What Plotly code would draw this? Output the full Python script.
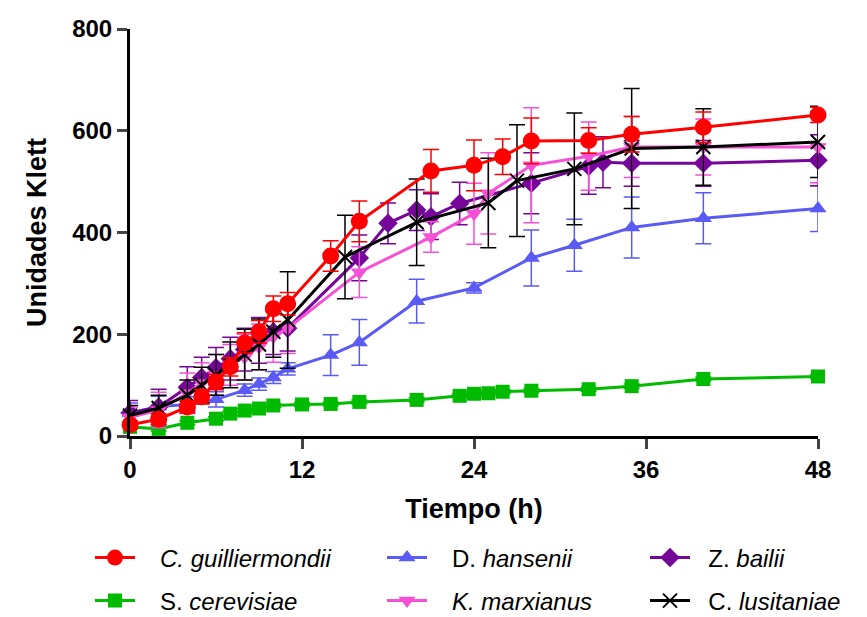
import plotly.graph_objects as go

# ---- data ----
cg_t = [0, 2, 4, 5, 6, 7, 8, 9, 10, 11, 14, 16, 21, 24, 26, 28, 32, 35, 40, 48]
cg_v = [22, 33, 57, 77, 106, 136, 183, 205, 250, 260, 354, 422, 521, 532, 549, 580, 581, 593, 607, 631]
cg_e = [8, 10, 12, 14, 15, 18, 20, 22, 25, 22, 30, 40, 42, 50, 35, 45, 25, 35, 30, 15]

dh_t = [0, 2, 4, 6, 8, 9, 10, 11, 14, 16, 20, 24, 28, 31, 35, 40, 48]
dh_v = [45, 58, 62, 72, 90, 102, 115, 132, 159, 184, 265, 291, 350, 375, 410, 428, 447]
dh_e = [20, 20, 15, 15, 12, 12, 12, 12, 40, 45, 43, 10, 55, 51, 60, 50, 45]

zb_t = [0, 2, 4, 5, 6, 7, 8, 9, 10, 11, 16, 18, 20, 21, 23, 28, 32, 33, 35, 40, 48]
zb_v = [45, 57, 96, 115, 134, 152, 170, 188, 205, 212, 350, 418, 444, 431, 457, 497, 530, 538, 536, 536, 542]
zb_e = [25, 35, 40, 40, 40, 42, 42, 45, 45, 45, 45, 40, 40, 45, 42, 60, 55, 50, 45, 45, 50]

sc_t = [0, 2, 4, 6, 7, 8, 9, 10, 12, 14, 16, 20, 23, 24, 25, 26, 28, 32, 35, 40, 48]
sc_v = [18, 14, 26, 34, 44, 50, 54, 60, 62, 63, 67, 71, 79, 83, 84, 87, 89, 92, 98, 112, 117]
sc_e = [4, 4, 4, 4, 4, 4, 4, 4, 4, 4, 4, 4, 4, 4, 4, 4, 4, 4, 4, 4, 4]

km_t = [0, 2, 4, 5, 6, 7, 8, 9, 10, 11, 16, 21, 24, 25, 28, 32, 35, 40, 48]
km_v = [37, 51, 84, 104, 120, 140, 155, 175, 195, 212, 322, 391, 437, 477, 532, 550, 568, 568, 568]
km_e = [20, 35, 40, 40, 40, 40, 45, 45, 50, 50, 50, 30, 60, 80, 113, 67, 60, 55, 70]

cl_t = [0, 2, 4, 5, 6, 7, 8, 9, 10, 11, 15, 20, 25, 27, 31, 35, 40, 48]
cl_v = [40, 55, 80, 100, 120, 140, 160, 180, 205, 228, 352, 420, 458, 502, 525, 565, 568, 578]
cl_e = [20, 25, 30, 35, 40, 45, 50, 50, 50, 95, 82, 85, 88, 110, 110, 118, 75, 70]

x_ticks = [0, 12, 24, 36, 48]
y_ticks = [0, 200, 400, 600, 800]

FONT = "Liberation Sans"
NB = "\u00a0"

series = [
    # (name, t, v, e, color, symbol, size, legend slot)
    (NB * 3 + "S. <i>cerevisiae</i>", sc_t, sc_v, sc_e, "#00BB00", "square", 14, "legend4"),
    (NB * 3 + "D. <i>hansenii</i>", dh_t, dh_v, dh_e, "#5A5AF5", "triangle-up", 15, "legend2"),
    (NB * 2 + "Z. <i>bailii</i>", zb_t, zb_v, zb_e, "#76069A", "diamond", 15, "legend3"),
    (NB * 3 + "<i>K. marxianus</i>", km_t, km_v, km_e, "#F550D6", "triangle-down", 15, "legend5"),
    (NB * 2 + "C. <i>lusitaniae</i>", cl_t, cl_v, cl_e, "#000000", "x-thin-open", 14, "legend6"),
    (NB * 3 + "<i>C. guilliermondii</i>", cg_t, cg_v, cg_e, "#FF0000", "circle", 17, "legend"),
]

fig = go.Figure()
for name, t, v, e, col, sym, sz, lg in series:
    marker = dict(symbol=sym, size=sz, color=col)
    if sym == "x-thin-open":
        marker["line"] = dict(color=col, width=2)
    fig.add_trace(go.Scatter(
        x=t, y=v, name=name, mode="lines+markers",
        line=dict(color=col, width=3),
        marker=marker,
        error_y=dict(type="data", array=e, visible=True, color=col, thickness=1.5, width=8),
        cliponaxis=False,
        legend=lg,
    ))

# legend positions (pixel -> paper)
L, R, T, B = 130, 49, 29, 181
PW = 867 - L - R
PH = 617 - T - B

def px_x(px):
    return (px - L) / PW

def px_y(py):
    return 1 - (py - T) / PH

leg_common = dict(font=dict(family=FONT, size=24, color="black"), bgcolor="rgba(0,0,0,0)",
                  itemwidth=40, xanchor="left", yanchor="middle", borderwidth=0)
cols = [90, 382, 645]
rows = [558, 601]
slots = ["legend", "legend2", "legend3", "legend4", "legend5", "legend6"]
layout_legends = {}
for i, s in enumerate(slots):
    layout_legends[s] = dict(leg_common, x=px_x(cols[i % 3]), y=px_y(rows[i // 3]))

fig.update_layout(
    width=867, height=617,
    margin=dict(l=L, r=R, t=T, b=B, autoexpand=False),
    plot_bgcolor="white", paper_bgcolor="white",
    font=dict(family=FONT, color="black"),
    showlegend=True,
    xaxis=dict(
        range=[0, 48], tickvals=x_ticks, ticks="outside", ticklen=10, tickwidth=3,
        showline=True, linewidth=3, linecolor="black", showgrid=False, zeroline=False,
        tickfont=dict(family=FONT, size=24, weight="bold"),
        title=dict(text="Tiempo (h)", font=dict(family=FONT, size=27, weight="bold"), standoff=18),
    ),
    yaxis=dict(
        range=[0, 800], tickvals=y_ticks, ticks="outside", ticklen=10, tickwidth=3,
        showline=True, linewidth=3, linecolor="black", showgrid=False, zeroline=False,
        tickfont=dict(family=FONT, size=24, weight="bold"),
        title=dict(text="Unidades Klett", font=dict(family=FONT, size=27, weight="bold"), standoff=18),
    ),
    **layout_legends,
)

fig.write_html("out.html")
